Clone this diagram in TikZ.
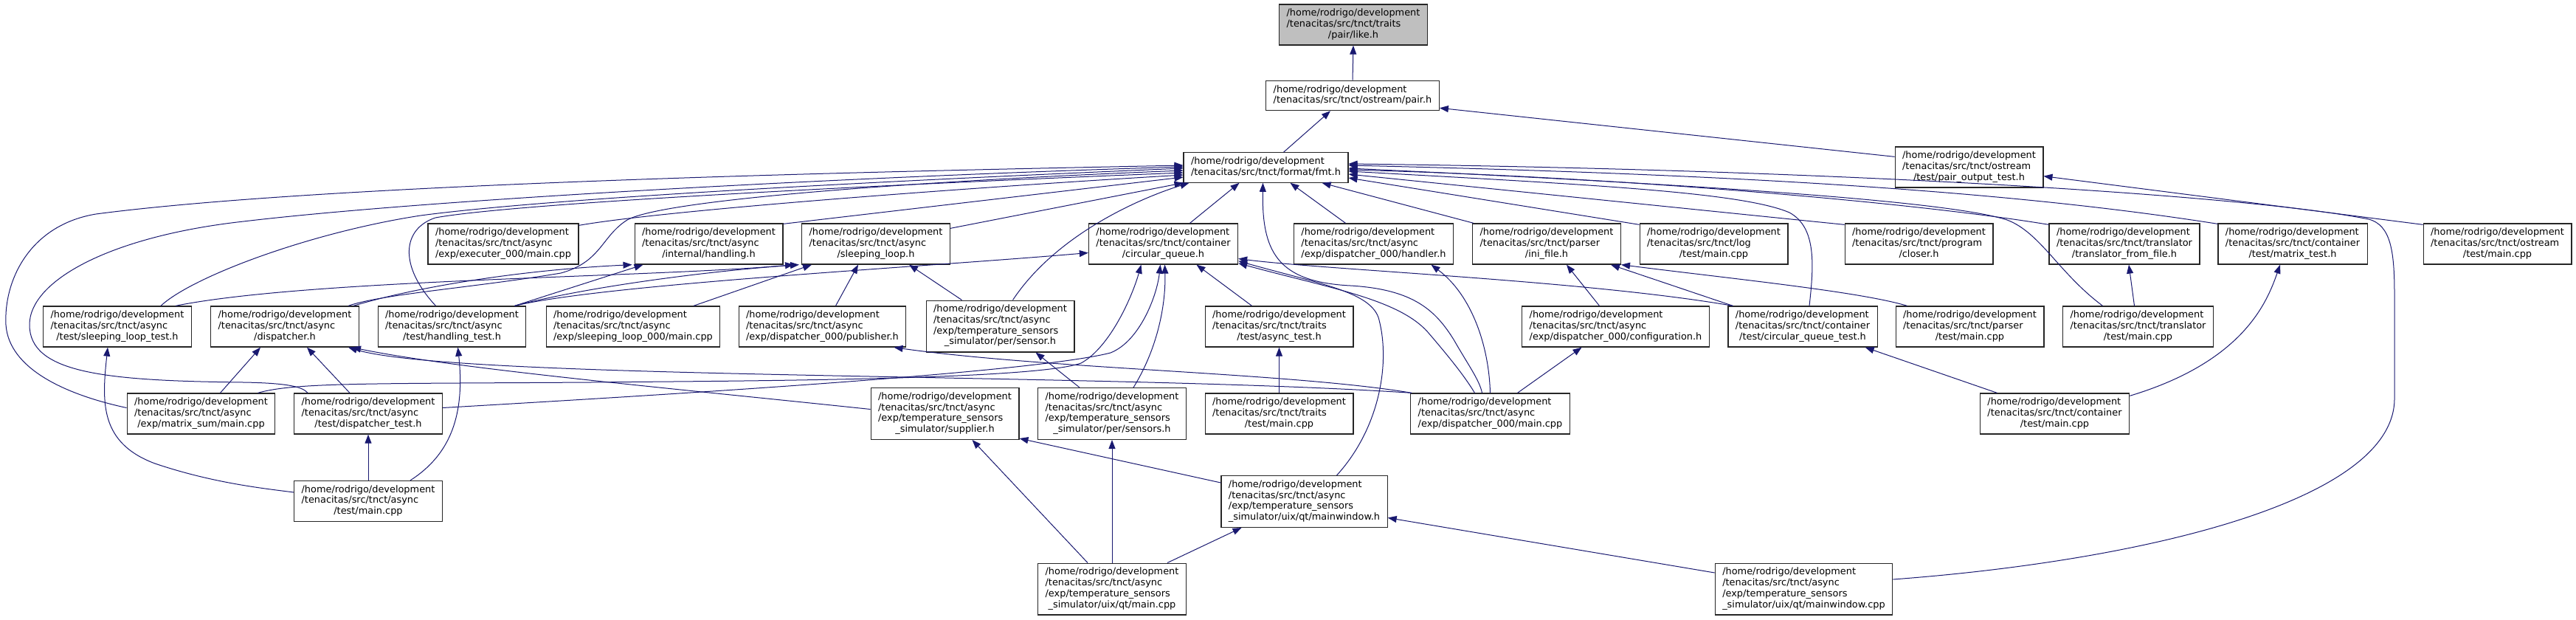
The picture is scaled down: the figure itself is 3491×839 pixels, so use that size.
\documentclass[tikz,border=0pt]{standalone}
\usepackage{fontspec}
\setmainfont{DejaVu Sans}
\usetikzlibrary{arrows.meta,calc}
\definecolor{edgeblue}{RGB}{25,25,112}
\definecolor{curgray}{RGB}{191,191,191}
\newcommand{\lastln}[1]{\multicolumn{1}{@{}c@{}}{#1}}
\newcommand{\fl}[1]{\begin{tabular}{@{}l@{}}#1\end{tabular}}
\begin{document}
\begin{tikzpicture}[x=1pt,y=-1pt,
  box/.style={draw=black!85, line width=1.2pt, inner xsep=10pt, inner ysep=5.5pt,
    font=\fontsize{12.9pt}{14.7pt}\selectfont, anchor=center},
  cur/.style={box, fill=curgray},
  arr/.style={draw=edgeblue, line width=1pt, arrows={Triangle[length=12pt,width=9pt]-}}]
\useasboundingbox (0,0) rectangle (3491,839);
% row 0-2
\node[cur] (like) at (1834,33.5) {\fl{/home/rodrigo/development\\/tenacitas/src/tnct/traits\\\lastln{/pair/like.h}}};
\node[box] (pair) at (1833,129.5) {\fl{/home/rodrigo/development\\/tenacitas/src/tnct/ostream/pair.h}};
\node[box] (fmt) at (1715.5,227) {\fl{/home/rodrigo/development\\/tenacitas/src/tnct/format/fmt.h}};
\node[box] (pot) at (2668.5,226.5) {\fl{/home/rodrigo/development\\/tenacitas/src/tnct/ostream\\\lastln{/test/pair\_output\_test.h}}};
% row 3
\node[box] (exe) at (682,330.5) {\fl{/home/rodrigo/development\\/tenacitas/src/tnct/async\\\lastln{/exp/executer\_000/main.cpp}}};
\node[box] (hdl) at (960.5,330.5) {\fl{/home/rodrigo/development\\/tenacitas/src/tnct/async\\\lastln{/internal/handling.h}}};
\node[box] (slp) at (1187,330.5) {\fl{/home/rodrigo/development\\/tenacitas/src/tnct/async\\\lastln{/sleeping\_loop.h}}};
\node[box] (cq) at (1576.5,330.5) {\fl{/home/rodrigo/development\\/tenacitas/src/tnct/container\\\lastln{/circular\_queue.h}}};
\node[box] (hnd) at (1861.5,330.5) {\fl{/home/rodrigo/development\\/tenacitas/src/tnct/async\\\lastln{/exp/dispatcher\_000/handler.h}}};
\node[box] (ini) at (2096,330.5) {\fl{/home/rodrigo/development\\/tenacitas/src/tnct/parser\\\lastln{/ini\_file.h}}};
\node[box] (logm) at (2322.5,330.5) {\fl{/home/rodrigo/development\\/tenacitas/src/tnct/log\\\lastln{/test/main.cpp}}};
\node[box] (clo) at (2600.5,330.5) {\fl{/home/rodrigo/development\\/tenacitas/src/tnct/program\\\lastln{/closer.h}}};
\node[box] (tff) at (2879,330.5) {\fl{/home/rodrigo/development\\/tenacitas/src/tnct/translator\\\lastln{/translator\_from\_file.h}}};
\node[box] (mt) at (3107,330.5) {\fl{/home/rodrigo/development\\/tenacitas/src/tnct/container\\\lastln{/test/matrix\_test.h}}};
\node[box] (osm) at (3384.5,330.5) {\fl{/home/rodrigo/development\\/tenacitas/src/tnct/ostream\\\lastln{/test/main.cpp}}};
% row 4
\node[box] (slt) at (159,442.5) {\fl{/home/rodrigo/development\\/tenacitas/src/tnct/async\\\lastln{/test/sleeping\_loop\_test.h}}};
\node[box] (dsp) at (386,442.5) {\fl{/home/rodrigo/development\\/tenacitas/src/tnct/async\\\lastln{/dispatcher.h}}};
\node[box] (ht) at (612.5,442.5) {\fl{/home/rodrigo/development\\/tenacitas/src/tnct/async\\\lastln{/test/handling\_test.h}}};
\node[box] (sl0) at (858,442.5) {\fl{/home/rodrigo/development\\/tenacitas/src/tnct/async\\\lastln{/exp/sleeping\_loop\_000/main.cpp}}};
\node[box] (pub) at (1114.5,442.5) {\fl{/home/rodrigo/development\\/tenacitas/src/tnct/async\\\lastln{/exp/dispatcher\_000/publisher.h}}};
\node[box] (sen) at (1355.5,442) {\fl{/home/rodrigo/development\\/tenacitas/src/tnct/async\\/exp/temperature\_sensors\\\lastln{\_simulator/per/sensor.h}}};
\node[box] (at) at (1733.5,442.5) {\fl{/home/rodrigo/development\\/tenacitas/src/tnct/traits\\\lastln{/test/async\_test.h}}};
\node[box] (cfg) at (2189.5,442.5) {\fl{/home/rodrigo/development\\/tenacitas/src/tnct/async\\\lastln{/exp/dispatcher\_000/configuration.h}}};
\node[box] (cqt) at (2443,442.5) {\fl{/home/rodrigo/development\\/tenacitas/src/tnct/container\\\lastln{/test/circular\_queue\_test.h}}};
\node[box] (pm) at (2669.5,442.5) {\fl{/home/rodrigo/development\\/tenacitas/src/tnct/parser\\\lastln{/test/main.cpp}}};
\node[box] (tm) at (2897.5,442.5) {\fl{/home/rodrigo/development\\/tenacitas/src/tnct/translator\\\lastln{/test/main.cpp}}};
% row 5
\node[box] (ms) at (272.5,560.5) {\fl{/home/rodrigo/development\\/tenacitas/src/tnct/async\\\lastln{/exp/matrix\_sum/main.cpp}}};
\node[box] (dt) at (499,560.5) {\fl{/home/rodrigo/development\\/tenacitas/src/tnct/async\\\lastln{/test/dispatcher\_test.h}}};
\node[box] (sup) at (1280.5,560.5) {\fl{/home/rodrigo/development\\/tenacitas/src/tnct/async\\/exp/temperature\_sensors\\\lastln{\_simulator/supplier.h}}};
\node[box] (sens) at (1507,560.5) {\fl{/home/rodrigo/development\\/tenacitas/src/tnct/async\\/exp/temperature\_sensors\\\lastln{\_simulator/per/sensors.h}}};
\node[box] (ttm) at (1733.5,560.5) {\fl{/home/rodrigo/development\\/tenacitas/src/tnct/traits\\\lastln{/test/main.cpp}}};
\node[box] (d0m) at (2019.5,560.5) {\fl{/home/rodrigo/development\\/tenacitas/src/tnct/async\\\lastln{/exp/dispatcher\_000/main.cpp}}};
\node[box] (ctm) at (2784.5,560.5) {\fl{/home/rodrigo/development\\/tenacitas/src/tnct/container\\\lastln{/test/main.cpp}}};
% row 6-7
\node[box] (atm) at (499,679) {\fl{/home/rodrigo/development\\/tenacitas/src/tnct/async\\\lastln{/test/main.cpp}}};
\node[box] (mwh) at (1767.5,679.5) {\fl{/home/rodrigo/development\\/tenacitas/src/tnct/async\\/exp/temperature\_sensors\\\lastln{\_simulator/uix/qt/mainwindow.h}}};
\node[box] (qtm) at (1507,798) {\fl{/home/rodrigo/development\\/tenacitas/src/tnct/async\\/exp/temperature\_sensors\\\lastln{\_simulator/uix/qt/main.cpp}}};
\node[box] (mwc) at (2444.5,798) {\fl{/home/rodrigo/development\\/tenacitas/src/tnct/async\\/exp/temperature\_sensors\\\lastln{\_simulator/uix/qt/mainwindow.cpp}}};

% ---- edges (arrowhead at the included file) ----
\draw[arr] (like.south) -- (pair.north);
\draw[arr] ($(pair.south)+(-30,0)$) -- ($(fmt.north)+(24,0)$);
\draw[arr] ($(pair.south east)+(0,-4)$) -- ($(pot.north west)+(0,14)$);
\draw[arr] ($(pot.south east)+(0,-16)$) -- ($(osm.north west)+(0,2)$);
% fmt, left side
\draw[arr] ($(fmt.west)+(0,-3)$) .. controls (1200,232) and (450,248) .. (130,290) .. controls (40,305) and (5,380) .. (8,440) .. controls (12,500) and (90,535) .. ($(ms.west)+(0,-8)$);
\draw[arr] ($(fmt.west)+(0,-1)$) .. controls (1200,238) and (600,268) .. (330,300) .. controls (150,320) and (40,380) .. (40,440) .. controls (40,505) and (140,516) .. (330,518) .. controls (390,519) and (410,524) .. ($(dt.north west)+(19,0)$);
\draw[arr] ($(fmt.west)+(0,1)$) .. controls (1200,245) and (750,268) .. (570,292) .. controls (420,315) and (260,375) .. ($(slt.north)+(59,0)$);
\draw[arr] ($(fmt.west)+(0,4)$) .. controls (1250,245) and (900,270) .. (850,298) .. controls (815,320) and (815,355) .. (760,370) .. controls (640,390) and (520,398) .. ($(dsp.north east)+(-15,0)$);
\draw[arr] ($(fmt.west)+(0,7)$) .. controls (1200,250) and (700,275) .. (590,295) .. controls (545,310) and (540,360) .. ($(ht.north)+(-22,0)$);
\draw[arr] ($(fmt.west)+(0,10)$) .. controls (1300,255) and (900,285) .. ($(exe.north east)+(0,3)$);
\draw[arr] ($(fmt.west)+(0,13)$) -- ($(hdl.north east)+(0,1)$);
\draw[arr] (fmt.south west) -- ($(slp.north east)+(0,7)$);
\draw[arr] ($(fmt.south west)+(8,0)$) .. controls (1540,270) and (1430,320) .. ($(sen.north)+(17,0)$);
% fmt, bottom
\draw[arr] ($(fmt.south)+(-36,0)$) -- ($(cq.north)+(36,0)$);
\draw[arr] ($(fmt.south)+(-4,0)$) .. controls (1710,340) and (1730,382) .. (1830,387) .. controls (1915,392) and (1945,420) .. (1970,460) .. controls (1990,495) and (2005,515) .. ($(d0m.north)+(-11,0)$);
\draw[arr] ($(fmt.south)+(33,0)$) -- ($(hnd.north)+(-38,0)$);
\draw[arr] ($(fmt.south east)+(-36,0)$) -- ($(ini.north west)+(2,0)$);
% fmt, right side
\draw[arr] ($(fmt.east)+(0,-5)$) .. controls (2500,230) and (3050,265) .. (3210,297) .. controls (3240,305) and (3245,340) .. (3245,400) -- (3245,540) .. controls (3245,680) and (2900,760) .. ($(mwc.east)+(0,-13)$);
\draw[arr] ($(fmt.east)+(0,-3)$) .. controls (2300,235) and (2700,255) .. ($(mt.north west)+(0,1)$);
\draw[arr] ($(fmt.east)+(0,1)$) .. controls (2300,250) and (2640,272) .. (2720,298) .. controls (2765,315) and (2790,370) .. ($(tm.north)+(-48,0)$);
\draw[arr] ($(fmt.east)+(0,3)$) .. controls (2200,240) and (2600,275) .. ($(tff.north west)+(0,2)$);
\draw[arr] ($(fmt.east)+(0,5)$) .. controls (2150,250) and (2360,260) .. (2425,288) .. controls (2462,308) and (2458,360) .. ($(cqt.north)+(9,0)$);
\draw[arr] ($(fmt.east)+(0,9)$) -- ($(clo.north west)+(0,2)$);
\draw[arr] ($(fmt.east)+(0,14)$) -- ($(logm.north west)+(0,2)$);
% handling.h, sleeping_loop.h
\draw[arr] ($(hdl.south west)+(-3,0)$) .. controls (700,366) and (560,390) .. ($(dsp.north east)+(-8,0)$);
\draw[arr] ($(hdl.south west)+(12,0)$) -- ($(ht.north)+(85,0)$);
\draw[arr] ($(slp.south west)+(-10,0)$) .. controls (880,376) and (420,378) .. ($(slt.north)+(79,0)$);
\draw[arr] ($(slp.south west)+(-3,0)$) .. controls (950,368) and (790,390) .. ($(ht.north)+(85,0)$);
\draw[arr] ($(slp.south west)+(14,0)$) -- ($(sl0.north)+(82,0)$);
\draw[arr] ($(slp.south)+(-24,0)$) -- ($(pub.north)+(18,0)$);
\draw[arr] ($(slp.south east)+(-56,0)$) -- ($(sen.north)+(-52,0)$);
% circular_queue.h
\draw[arr] ($(cq.west)+(0,12)$) .. controls (1250,362) and (820,385) .. ($(ht.north)+(85,0)$);
\draw[arr] ($(cq.south)+(-30,0)$) .. controls (1535,400) and (1505,470) .. (1465,492) .. controls (1400,515) and (1000,516) .. (800,518) .. controls (500,520) and (400,518) .. ($(ms.north east)+(-24,0)$);
\draw[arr] ($(cq.south)+(-4,0)$) .. controls (1568,400) and (1545,462) .. (1505,478) .. controls (1400,505) and (900,535) .. ($(dt.east)+(0,-8)$);
\draw[arr] ($(cq.south)+(2,0)$) .. controls (1580,410) and (1570,470) .. ($(sens.north)+(29,0)$);
\draw[arr] ($(cq.south)+(45,0)$) -- ($(at.north)+(-37,0)$);
\draw[arr] ($(cq.east)+(0,20)$) .. controls (1800,366) and (2150,380) .. ($(cqt.north west)+(7,0)$);
\draw[arr] ($(cq.south east)+(0,-5)$) .. controls (1790,385) and (1855,395) .. (1868,430) .. controls (1885,490) and (1870,580) .. ($(mwh.north)+(44,0)$);
\draw[arr] ($(cq.south east)+(0,-2)$) .. controls (1800,390) and (1895,405) .. (1935,450) .. controls (1965,485) and (1985,510) .. ($(d0m.north)+(-21,0)$);
% dispatcher_000
\draw[arr] ($(hnd.south)+(78,0)$) .. controls (1995,400) and (2018,470) .. (d0m.north);
\draw[arr] ($(cfg.south)+(-46,0)$) -- ($(d0m.north)+(37,0)$);
\draw[arr] ($(pub.south east)+(-17,0)$) .. controls (1420,500) and (1750,505) .. ($(d0m.north west)+(2,0)$);
\draw[arr] ($(dsp.south east)+(-15,0)$) .. controls (620,515) and (1500,505) .. ($(d0m.north west)+(2,0)$);
% dispatcher.h
\draw[arr] ($(dsp.south east)+(-10,0)$) .. controls (620,500) and (900,525) .. ($(sup.west)+(0,-6)$);
\draw[arr] ($(dsp.south)+(-33,0)$) -- ($(ms.north)+(26,0)$);
\draw[arr] ($(dsp.south)+(30,0)$) -- ($(dt.north)+(-25,0)$);
% ini_file.h etc.
\draw[arr] ($(ini.south)+(27,0)$) -- ($(cfg.north)+(-22,0)$);
\draw[arr] ($(ini.south east)+(-14,0)$) -- ($(cqt.north west)+(7,0)$);
\draw[arr] (ini.south east) .. controls (2350,378) and (2520,395) .. ($(pm.north)+(-85,0)$);
\draw[arr] ($(cqt.south east)+(-17,0)$) -- ($(ctm.north)+(-78,0)$);
\draw[arr] ($(mt.south)+(-17,0)$) .. controls (3072,410) and (3040,490) .. ($(ctm.north east)+(0,4)$);
\draw[arr] ($(tff.south)+(6,0)$) -- ($(tm.north)+(-5,0)$);
\draw[arr] (at.south) -- (ttm.north);
% async tests
\draw[arr] (dt.south) -- (atm.north);
\draw[arr] ($(slt.south)+(-13,0)$) .. controls (138,545) and (135,600) .. (210,628) .. controls (290,655) and (360,662) .. ($(atm.west)+(0,-12)$);
\draw[arr] ($(ht.south)+(8,0)$) .. controls (630,560) and (612,615) .. ($(atm.north east)+(-44,0)$);
% temperature sensors simulator
\draw[arr] ($(sen.south)+(48,0)$) -- ($(sens.north)+(-44,0)$);
\draw[arr] ($(sup.south)+(37,0)$) -- ($(qtm.north)+(-33,0)$);
\draw[arr] (sens.south) -- (qtm.north);
\draw[arr] ($(mwh.south)+(-85,0)$) -- ($(qtm.north)+(75,0)$);
\draw[arr] ($(sup.south east)+(0,-2)$) -- ($(mwh.north west)+(0,10)$);
\draw[arr] ($(mwh.east)+(0,22)$) -- ($(mwc.west)+(0,-22)$);
\end{tikzpicture}
\end{document}
